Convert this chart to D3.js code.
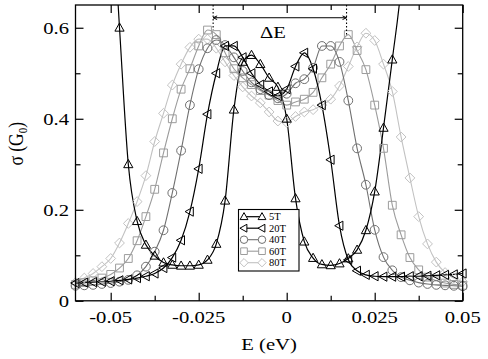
<!DOCTYPE html>
<html><head><meta charset="utf-8">
<script src="https://cdn.jsdelivr.net/npm/d3@7"></script>
<style>body{margin:0;background:#fff}svg{display:block}</style>
</head><body><svg id="c" width="488" height="359"></svg>
<script>
// ---------- data ----------
const energy = [-0.06,-0.0575,-0.055,-0.0525,-0.05,-0.0475,-0.045,-0.0425,-0.04,-0.0375,-0.035,-0.0325,-0.03,-0.0275,-0.025,-0.0225,-0.02,-0.0175,-0.015,-0.0125,-0.01,-0.0075,-0.005,-0.0025,0,0.0025,0.005,0.0075,0.01,0.0125,0.015,0.0175,0.02,0.0225,0.025,0.0275,0.03,0.0325,0.035,0.0375,0.04,0.0425,0.045,0.0475,0.05];
const sigma5T  = [1.3,1.35,1.3,1.15,0.92,0.60,0.30,0.175,0.123,0.099,0.084,0.079,0.077,0.077,0.079,0.09,0.125,0.22,0.42,0.525,0.54,0.52,0.49,0.47,0.40,0.225,0.13,0.094,0.08,0.078,0.082,0.093,0.112,0.155,0.24,0.38,0.53,0.69,0.95,1.2,1.35,1.4,1.35,1.2,1.0];
const sigma20T = [0.039,0.04,0.041,0.042,0.043,0.045,0.047,0.05,0.054,0.06,0.072,0.095,0.133,0.196,0.29,0.41,0.5,0.56,0.56,0.535,0.5,0.475,0.46,0.45,0.465,0.515,0.545,0.51,0.43,0.31,0.165,0.09,0.066,0.057,0.054,0.053,0.053,0.053,0.054,0.054,0.055,0.056,0.057,0.058,0.06];
const sigma40T = [0.033,0.034,0.035,0.037,0.039,0.042,0.046,0.056,0.075,0.108,0.155,0.237,0.33,0.43,0.509,0.555,0.573,0.562,0.535,0.505,0.48,0.465,0.452,0.445,0.455,0.478,0.487,0.512,0.56,0.56,0.525,0.44,0.335,0.255,0.156,0.096,0.067,0.052,0.045,0.04,0.037,0.035,0.034,0.033,0.032];
const sigma60T = [0.036,0.04,0.044,0.05,0.058,0.072,0.093,0.132,0.185,0.245,0.325,0.40,0.465,0.51,0.56,0.595,0.585,0.545,0.51,0.49,0.475,0.462,0.452,0.44,0.43,0.437,0.443,0.458,0.49,0.52,0.56,0.585,0.55,0.508,0.43,0.335,0.21,0.145,0.095,0.068,0.052,0.044,0.039,0.036,0.034];
const sigma80T = [0.04,0.05,0.06,0.075,0.093,0.127,0.17,0.218,0.275,0.35,0.412,0.474,0.52,0.557,0.575,0.575,0.555,0.525,0.495,0.47,0.45,0.435,0.415,0.395,0.392,0.405,0.415,0.42,0.43,0.443,0.472,0.515,0.558,0.588,0.572,0.52,0.46,0.36,0.27,0.185,0.125,0.085,0.062,0.05,0.042];
const seriesNames = ["5T","20T","40T","60T","80T"];
const xTicks = [-0.05,-0.025,0,0.025,0.05];
const xTickLabels = ["-0.05","-0.025","0","0.025","0.05"];
const xMinorTicks = [-0.0375,-0.0125,0.0125,0.0375];
const yTicks = [0,0.2,0.4,0.6];
const yTickLabels = ["0","0.2","0.4","0.6"];
const yMinorTicks = [0.1,0.3,0.5];
const deltaEPeaksE = [-0.0209,0.017];
const deltaEPeaksS = [0.595,0.585];
const deltaEArrowS = 0.622;

// ---------- setup ----------
const W=488,H=359;
const M={l:75.5,r:462.7,t:5,b:300.8};
const svg=d3.select("#c");
const x=d3.scaleLinear().domain([-0.06,0.05]).range([M.l,M.r]);
const y=d3.scaleLinear().domain([0,0.65]).range([M.b,M.t]);
const FONT="'Liberation Serif','Times New Roman',serif";
const SX=1.18;

const styles=[
  {color:"#000",shape:"triUp",width:1.2},
  {color:"#000",shape:"triLeft",width:1.2},
  {color:"#707070",shape:"circle",width:1.1},
  {color:"#9c9c9c",shape:"square",width:1.1},
  {color:"#c2c2c2",shape:"diamond",width:1.1}
];
function symPath(shape,k){
  const s=k||1;
  switch(shape){
    case "triUp": return `M0,${-4.8*s}L${4.6*s},${3.4*s}L${-4.6*s},${3.4*s}Z`;
    case "triLeft": return `M${-4.8*s},0L${3.4*s},${-4.6*s}L${3.4*s},${4.6*s}Z`;
    case "circle": {const r=4.4*s;return `M${r},0A${r},${r} 0 1,1 ${-r},0A${r},${r} 0 1,1 ${r},0Z`;}
    case "square": {const h=3.9*s;return `M${-h},${-h}H${h}V${h}H${-h}Z`;}
    case "diamond": {const h=4.9*s;return `M0,${-h}L${h},0L0,${h}L${-h},0Z`;}
  }
}
const allSeries=[sigma5T,sigma20T,sigma40T,sigma60T,sigma80T];
const series=seriesNames.map((n,i)=>({name:n,style:styles[i],pts:energy.map((e,j)=>({e,s:allSeries[i][j]}))}));

svg.append("defs").append("clipPath").attr("id","pc").append("rect")
  .attr("x",M.l).attr("y",M.t).attr("width",M.r-M.l).attr("height",M.b-M.t);

const line=d3.line().x(d=>x(d.e)).y(d=>y(d.s)).curve(d3.curveMonotoneX);
const g=svg.append("g");
// draw light series first so dark on top
const order=[4,3,2,1,0];
order.forEach(i=>{
  const sr=series[i];
  g.append("path").attr("d",line(sr.pts)).attr("clip-path","url(#pc)")
    .attr("fill","none").attr("stroke",sr.style.color).attr("stroke-width",sr.style.width);
});
order.forEach(i=>{
  const sr=series[i];
  g.append("g").selectAll("path").data(sr.pts.filter(d=>d.s<=0.65)).join("path")
    .attr("transform",d=>`translate(${x(d.e)},${y(d.s)})`)
    .attr("d",symPath(sr.style.shape))
    .attr("fill","none").attr("stroke",sr.style.color).attr("stroke-width",1);
});

// ---------- axes ----------
function tickAxis(axisFn,scale,vals,len,tr){
  svg.append("g").attr("transform",tr)
    .call(axisFn(scale).tickValues(vals).tickSizeInner(len).tickSizeOuter(0).tickFormat(""))
    .call(a=>a.select(".domain").remove())
    .call(a=>a.selectAll("line").attr("stroke","#000").attr("stroke-width",1.2));
}
tickAxis(d3.axisBottom,x,xTicks,-8,`translate(0,${M.b})`);
tickAxis(d3.axisBottom,x,xMinorTicks,-5,`translate(0,${M.b})`);
tickAxis(d3.axisTop,x,xTicks,-8,`translate(0,${M.t})`);
tickAxis(d3.axisTop,x,xMinorTicks,-5,`translate(0,${M.t})`);
tickAxis(d3.axisLeft,y,yTicks,-8,`translate(${M.l},0)`);
tickAxis(d3.axisLeft,y,yMinorTicks,-5,`translate(${M.l},0)`);
tickAxis(d3.axisRight,y,yTicks,-8,`translate(${M.r},0)`);
tickAxis(d3.axisRight,y,yMinorTicks,-5,`translate(${M.r},0)`);
svg.append("rect").attr("x",M.l).attr("y",M.t).attr("width",M.r-M.l).attr("height",M.b-M.t)
  .attr("fill","none").attr("stroke","#000").attr("stroke-width",1.3);

// tick labels
svg.append("g").selectAll("text").data(xTicks).join("text")
  .attr("transform",d=>`translate(${x(d)},${M.b+22.5}) scale(${SX},1)`)
  .attr("text-anchor","middle").attr("font-family",FONT).attr("font-size",17.5)
  .text((d,i)=>xTickLabels[i]);
svg.append("g").selectAll("text").data(yTicks).join("text")
  .attr("transform",d=>`translate(${M.l-6.5},${y(d)+6}) scale(${SX},1)`)
  .attr("text-anchor","end").attr("font-family",FONT).attr("font-size",17.5)
  .text((d,i)=>yTickLabels[i]);

// axis titles
svg.append("text").attr("transform",`translate(${x(-0.005)},350) scale(${SX},1)`)
  .attr("text-anchor","middle").attr("font-family",FONT).attr("font-size",17.5).text("E (eV)");
const yt=svg.append("text").attr("transform",`translate(22.5,${y(0.345)}) scale(${SX},1) rotate(-90)`)
  .attr("text-anchor","middle").attr("font-family",FONT).attr("font-size",17.5);
yt.append("tspan").text("σ (G");
yt.append("tspan").attr("font-size",11).attr("dy",4).text("0");
yt.append("tspan").attr("dy",-4).text(")");

// ---------- ΔE annotation ----------
const ann=svg.append("g").attr("stroke","#000").attr("fill","none");
deltaEPeaksE.forEach((e,i)=>{
  ann.append("line").attr("x1",x(e)).attr("x2",x(e)).attr("y1",y(0.65)).attr("y2",y(deltaEPeaksS[i]))
    .attr("stroke-width",1.1).attr("stroke-dasharray","1.5,2");
});
const ay=y(deltaEArrowS),ax1=x(deltaEPeaksE[0]),ax2=x(deltaEPeaksE[1]);
ann.append("line").attr("x1",ax1).attr("x2",ax2).attr("y1",ay).attr("y2",ay).attr("stroke-width",1);
ann.append("path").attr("d",`M${ax1+4},${ay-1.8}L${ax1},${ay}L${ax1+4},${ay+1.8}`).attr("stroke-width",1);
ann.append("path").attr("d",`M${ax2-4},${ay-1.8}L${ax2},${ay}L${ax2-4},${ay+1.8}`).attr("stroke-width",1);
svg.append("text").attr("transform",`translate(${x(-0.0039)},${y(0.578)}) scale(${SX},1)`)
  .attr("text-anchor","middle").attr("font-family",FONT).attr("font-size",17.5).text("ΔE");

// ---------- legend ----------
const lg=svg.append("g");
lg.append("rect").attr("x",238.5).attr("y",209.5).attr("width",60.5).attr("height",61.5)
  .attr("fill","#fff").attr("stroke","#000").attr("stroke-width",1.1);
series.forEach((sr,i)=>{
  const ly=216.7+i*11.5;
  lg.append("line").attr("x1",244).attr("x2",262).attr("y1",ly).attr("y2",ly)
    .attr("stroke",sr.style.color).attr("stroke-width",sr.style.width);
  [244,262].forEach(px=>lg.append("path").attr("transform",`translate(${px},${ly})`)
    .attr("d",symPath(sr.style.shape,0.85)).attr("fill","#fff").attr("stroke",sr.style.color).attr("stroke-width",1));
  lg.append("text").attr("x",269).attr("y",ly+3.6).attr("font-family",FONT).attr("font-size",10.5).text(sr.name);
});
</script></body></html>
